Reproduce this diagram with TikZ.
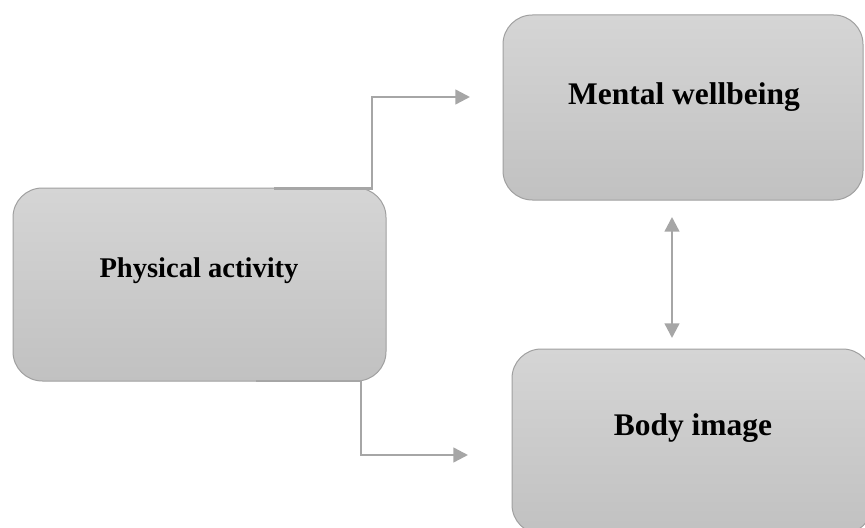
\documentclass[tikz,border=0pt]{standalone}
\usepackage{fontspec}
\setmainfont{Liberation Serif}
\usetikzlibrary{arrows.meta}

\definecolor{boxtop}{RGB}{213,213,213}
\definecolor{boxbot}{RGB}{193,193,193}
\definecolor{boxline}{RGB}{160,160,160}
\definecolor{connline}{RGB}{166,166,166}

\tikzset{
	box/.style={draw=boxline, line width=0.75pt, top color=boxtop, bottom color=boxbot,
		rounded corners=22pt, inner sep=0pt, minimum width=270pt, minimum height=138.75pt},
	boxtext/.style={inner sep=0pt, font=\bfseries\fontsize{23.6}{28}\selectfont},
	conn/.style={draw=connline, line width=1.8pt, -{Triangle[length=11pt,width=11pt]}},
	twoway/.style={draw=connline, line width=1.8pt, {Triangle[length=11pt,width=11pt]}-{Triangle[length=11pt,width=11pt]}}
}

\begin{document}
\begin{tikzpicture}[x=0.75pt,y=0.75pt,yscale=-1]
	\useasboundingbox (0,0) rectangle (865,528);
	\clip (0,0) rectangle (865,528);

	% boxes
	\node [box, minimum width=279.75pt, minimum height=144.75pt] (pa) at (199.5,284.5) {};
	\node [box] (mw) at (683,107.5) {};
	\node [box] (bi) at (692,441.5) {};

	% texts
	\node [boxtext, font=\bfseries\fontsize{21.4}{26}\selectfont] (patext) at (199,271) {Physical activity};
	\node [boxtext] (mwtext) at (684,97) {Mental wellbeing};
	\node [boxtext] (bitext) at (693,428) {Body image};

	% connector ends
	\coordinate (paout1) at (274,188.5);
	\coordinate (paout2) at (256,381);
	\coordinate (mwin) at (470,97);
	\coordinate (biin) at (468,455);
	\coordinate (mwdown) at (672,217);
	\coordinate (biup) at (672,338);

	% connectors
	\draw [conn] (paout1) -- ++(98,0) |- (mwin);
	\draw [conn] (paout2) -- ++(105,0) |- (biin);
	\draw [twoway] (mwdown) -- (biup);

\end{tikzpicture}
\end{document}
